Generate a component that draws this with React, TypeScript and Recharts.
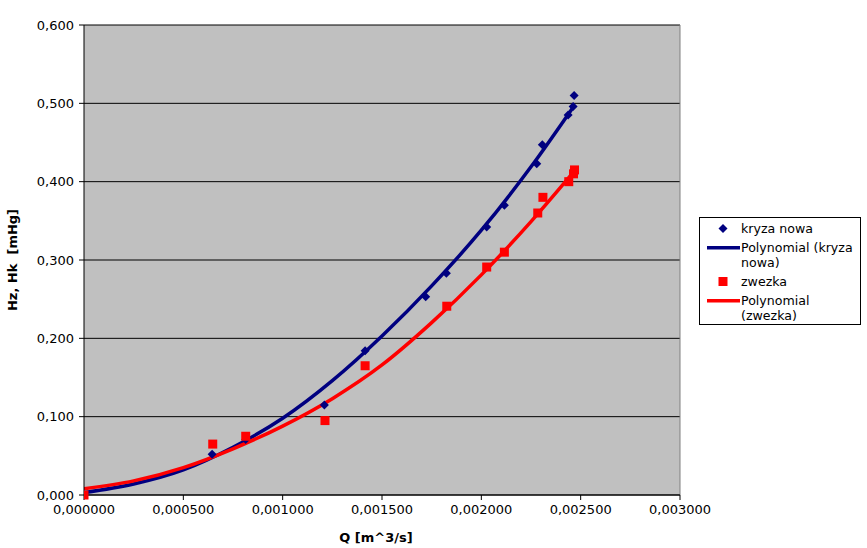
import {
	ComposedChart,
	Scatter,
	Line,
	XAxis,
	YAxis,
	CartesianGrid,
	ReferenceLine,
} from "recharts";

// measured points
const kryzaQ = [0, 0.000645, 0.000814, 0.00121, 0.001415, 0.00172, 0.001824, 0.002027, 0.002116, 0.002279, 0.002307, 0.002437, 0.002462, 0.002467];
const kryzaH = [0, 0.052, 0.071, 0.115, 0.184, 0.253, 0.283, 0.342, 0.37, 0.423, 0.447, 0.485, 0.496, 0.51];

const zwezkaQ = [0, 0.000648, 0.000814, 0.001213, 0.001415, 0.001826, 0.002027, 0.002116, 0.002284, 0.00231, 0.00244, 0.002464, 0.002469];
const zwezkaH = [0, 0.065, 0.075, 0.095, 0.165, 0.241, 0.291, 0.31, 0.36, 0.38, 0.4, 0.41, 0.415];

// trendlines
const trendQ = [0, 0.00025, 0.0005, 0.00075, 0.001, 0.00125, 0.0015, 0.00175, 0.002, 0.00225, 0.00247];
const trendKryza = [0.003, 0.014, 0.032, 0.061, 0.098, 0.146, 0.203, 0.267, 0.338, 0.419, 0.498];
const trendZwezka = [0.008, 0.018, 0.035, 0.059, 0.088, 0.123, 0.166, 0.22, 0.281, 0.349, 0.414];

const xTicks = [0, 0.0005, 0.001, 0.0015, 0.002, 0.0025, 0.003];
const yTicks = [0, 0.1, 0.2, 0.3, 0.4, 0.5, 0.6];

const BLUE = "#000080";
const RED = "#ff0000";
const FONT = "DejaVu Sans";

const kryza = kryzaQ.map((x, i) => ({ x, y: kryzaH[i] }));
const zwezka = zwezkaQ.map((x, i) => ({ x, y: zwezkaH[i] }));
const trendK = trendQ.map((x, i) => ({ x, y: trendKryza[i] }));
const trendZ = trendQ.map((x, i) => ({ x, y: trendZwezka[i] }));

const Diamond = (props: any) => {
	const { cx, cy } = props;
	const r = 4.5;
	return (
		<polygon
			points={`${cx},${cy - r} ${cx + r},${cy} ${cx},${cy + r} ${cx - r},${cy}`}
			fill={BLUE}
		/>
	);
};

const Square = (props: any) => {
	const { cx, cy } = props;
	return <rect x={cx - 4.5} y={cy - 4.5} width={9} height={9} fill={RED} />;
};

function LegendBox() {
	const row = { display: "flex", alignItems: "flex-start", lineHeight: "15px", marginBottom: 4 } as const;
	const icon = { width: 41, flexShrink: 0, height: 15, position: "relative" } as const;
	const svgStyle = { position: "absolute", left: 0, top: 0 } as const;
	return (
		<div
			style={{
				position: "absolute",
				left: 699,
				top: 217,
				width: 160,
				height: 103,
				border: "1px solid #000",
				background: "#fff",
				fontFamily: FONT,
				fontSize: 12.6,
				color: "#000",
				boxSizing: "content-box",
				padding: "3px 0 0 0",
			}}
		>
			<div style={row}>
				<div style={icon}>
					<svg width={41} height={15} style={svgStyle}>
						<polygon points="23,3 27.5,7.5 23,12 18.5,7.5" fill={BLUE} />
					</svg>
				</div>
				<span>kryza nowa</span>
			</div>
			<div style={row}>
				<div style={icon}>
					<svg width={41} height={15} style={svgStyle}>
						<rect x={7} y={6} width={33} height={3.5} fill={BLUE} />
					</svg>
				</div>
				<span>
					Polynomial (kryza
					<br />
					nowa)
				</span>
			</div>
			<div style={row}>
				<div style={icon}>
					<svg width={41} height={15} style={svgStyle}>
						<rect x={18.5} y={3} width={9} height={9} fill={RED} />
					</svg>
				</div>
				<span>zwezka</span>
			</div>
			<div style={row}>
				<div style={icon}>
					<svg width={41} height={15} style={svgStyle}>
						<rect x={7} y={6} width={33} height={3.5} fill={RED} />
					</svg>
				</div>
				<span>
					Polynomial
					<br />
					(zwezka)
				</span>
			</div>
		</div>
	);
}

export default function App() {
	const fmtX = (v: number) => v.toFixed(6).replace(".", ",");
	const fmtY = (v: number) => v.toFixed(3).replace(".", ",");
	return (
		<div
			style={{
				position: "absolute",
				left: 0,
				top: 0,
				width: 867,
				height: 548,
				background: "#fff",
				fontFamily: FONT,
			}}
		>
			<ComposedChart
				width={867}
				height={548}
				margin={{ top: 25, right: 187, bottom: 0, left: 0 }}
			>
				<CartesianGrid
					vertical={false}
					stroke="#000"
					fill="#c0c0c0"
					fillOpacity={1}
				/>
				<XAxis
					type="number"
					dataKey="x"
					domain={[0, 0.003]}
					ticks={xTicks}
					tickFormatter={fmtX}
					height={53}
					tickSize={5}
					tickMargin={5}
					stroke="#000"
					tick={{ fill: "#000", fontSize: 13, fontFamily: FONT }}
					allowDataOverflow
					label={{
						value: "Q [m^3/s]",
						position: "insideBottom",
						offset: 6,
						dx: -6,
						style: { fontWeight: "bold", fontSize: 13, fill: "#000", fontFamily: FONT },
					}}
				/>
				<YAxis
					type="number"
					dataKey="y"
					domain={[0, 0.6]}
					ticks={yTicks}
					tickFormatter={fmtY}
					width={84}
					tickSize={5}
					tickMargin={5}
					stroke="#000"
					tick={{ fill: "#000", fontSize: 13, fontFamily: FONT }}
					label={{
						value: "Hz, Hk\u00a0 [mHg]",
						angle: -90,
						position: "insideLeft",
						offset: 12,
						style: {
							textAnchor: "middle",
							fontWeight: "bold",
							fontSize: 13,
							fill: "#000",
							fontFamily: FONT,
						},
					}}
				/>
				<ReferenceLine x={0.003} stroke="#808080" strokeWidth={1} />
				<Line
					data={trendK}
					dataKey="y"
					type="monotone"
					stroke={BLUE}
					strokeWidth={3.5}
					dot={false}
					activeDot={false}
					isAnimationActive={false}
				/>
				<Line
					data={trendZ}
					dataKey="y"
					type="monotone"
					stroke={RED}
					strokeWidth={3.5}
					dot={false}
					activeDot={false}
					isAnimationActive={false}
				/>
				<Scatter
					data={kryza}
					dataKey="y"
					shape={Diamond}
					isAnimationActive={false}
				/>
				<Scatter
					data={zwezka}
					dataKey="y"
					shape={Square}
					isAnimationActive={false}
				/>
			</ComposedChart>
			<LegendBox />
		</div>
	);
}
